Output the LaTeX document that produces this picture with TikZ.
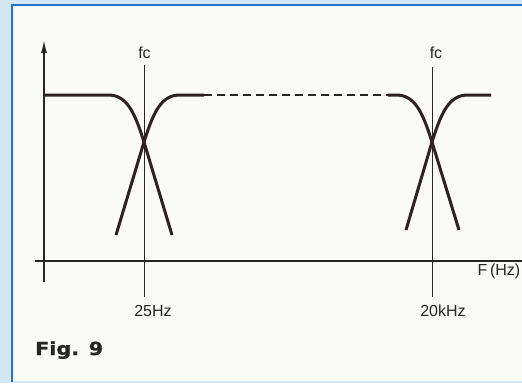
\documentclass[tikz,border=0pt]{standalone}
\usepackage{fontspec}
\setmainfont{Liberation Sans}
\newfontfamily\figfont[FakeStretch=1.15, FakeBold=1.2]{DejaVu Sans Bold}
\usetikzlibrary{arrows.meta}
\definecolor{panelblue}{RGB}{210,230,244}
\definecolor{rimblue}{RGB}{35,115,200}
\definecolor{paper}{RGB}{250,250,246}
\definecolor{inkgray}{RGB}{40,38,36}
\definecolor{curvebrown}{RGB}{45,35,32}

\begin{document}
\begin{tikzpicture}[
  x=1pt, y=-1pt,
  axis/.style={draw=inkgray, line width=1.4pt},
  fcline/.style={draw=inkgray, line width=1pt},
  response/.style={draw=curvebrown, line width=3pt},
  gap/.style={draw=inkgray, line width=1.3pt, dash pattern=on 8pt off 5pt},
  lbl/.style={font=\fontsize{16}{19}\selectfont, text=inkgray, anchor=base, inner sep=0pt}
]
\useasboundingbox (0,0) rectangle (522,383);

% Panel
\fill[panelblue] (0,0) rectangle (522,383);
\fill[paper] (12,5) rectangle (522,381);
\draw[rimblue, line width=2.4pt] (522,5) -- (12,5) -- (12,382);

% Axes
\coordinate (yfoot) at (44,282);
\coordinate (ytip) at (44,40);
\coordinate (xstart) at (35,261);
\coordinate (xend) at (522,261);
\draw[axis, -{Latex[length=13pt, width=6pt]}] (yfoot) -- (ytip);
\draw[axis] (xstart) -- (xend);
\node[lbl] (faxis) at (499,275) {F\,(Hz)};

% Cut-off markers
\node[lbl] (fcA) at (144.5,58) {fc};
\node[lbl] (fcB) at (436,58) {fc};
\node[lbl] (hzA) at (153,316) {25Hz};
\node[lbl] (hzB) at (443,316) {20kHz};
\coordinate (fcAtop) at (144,65);
\coordinate (fcAbot) at (144,297);
\coordinate (fcBtop) at (432,67);
\coordinate (fcBbot) at (432,297);
\draw[fcline] (fcAtop) -- (fcAbot);
\draw[fcline] (fcBtop) -- (fcBbot);

% Response curves
\draw[response] (44,95) -- (108,95) .. controls (126,95) and (134,110) .. (144,142) -- (172,235);
\draw[response] (116,235) -- (144,142) .. controls (154,110) and (162,95) .. (180,95) -- (204,95);
\draw[gap] (204,95) -- (388,95);
\draw[response] (388,95) -- (396,95) .. controls (414,95) and (422,110) .. (432,142) -- (459,230);
\draw[response] (406,230) -- (432,142) .. controls (442,110) and (450,95) .. (468,95) -- (491,95);

% Caption
\node[anchor=base west, inner sep=0pt, font=\figfont\fontsize{18}{21}\selectfont, text=inkgray] (figlabel) at (35,355) {Fig. 9};

\end{tikzpicture}
\end{document}
